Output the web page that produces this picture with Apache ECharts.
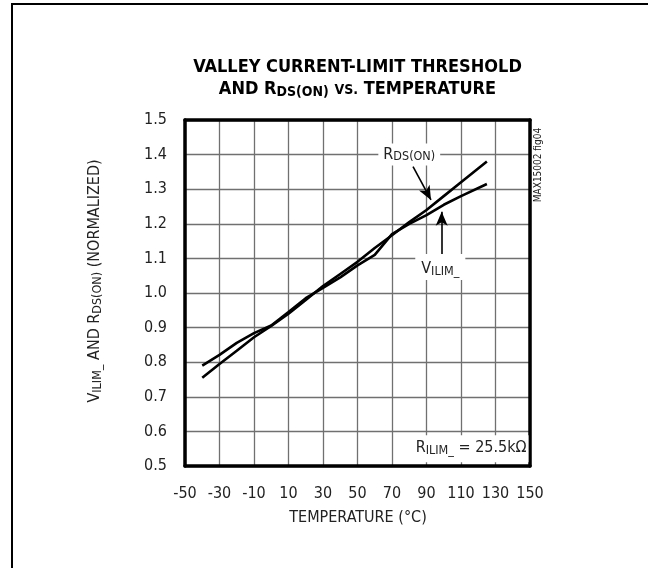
<!DOCTYPE html>
<html>
<head>
<meta charset="utf-8">
<script src="https://cdn.jsdelivr.net/npm/echarts@6/dist/echarts.min.js"></script>
<style>
html,body{margin:0;padding:0;background:#fff;}
#c{width:648px;height:568px;}
</style>
</head>
<body>
<div id="c"></div>
<script>
// Data
const temps = [-40, -30, -20, -10, 0, 10, 20, 30, 40, 50, 60, 70, 80, 90, 100, 110, 125];
const rdsOn = [0.755, 0.795, 0.833, 0.872, 0.905, 0.94, 0.98, 1.02, 1.055, 1.09, 1.13, 1.167, 1.205, 1.24, 1.28, 1.32, 1.38];
const vIlim = [0.79, 0.821, 0.856, 0.884, 0.906, 0.945, 0.985, 1.015, 1.045, 1.08, 1.11, 1.17, 1.2, 1.225, 1.255, 1.28, 1.315];
const xTicks = { min: -50, max: 150, step: 20 };
const yTicks = { min: 0.5, max: 1.5, step: 0.1 };

const FONT = "'Liberation Sans Narrow', 'Arial Narrow', 'DejaVu Sans Condensed', sans-serif";
const chart = echarts.init(document.getElementById('c'));

const sub = { fontSize: 12.5, fontFamily: FONT, color: '#222', padding: [5, 0, 0, 0] };

chart.setOption({
  animation: false,
  backgroundColor: '#fff',
  grid: { left: 185, top: 120, width: 345, height: 346 },
  xAxis: [{
    type: 'value', min: xTicks.min, max: xTicks.max, interval: xTicks.step,
    axisLine: { show: true, onZero: false, lineStyle: { color: '#000', width: 3.5 } },
    axisTick: { show: false },
    splitLine: { show: true, lineStyle: { color: '#707070', width: 1.3 } },
    axisLabel: { color: '#222', fontSize: 16, fontFamily: FONT, margin: 20 }
  }, {
    type: 'value', position: 'top', min: xTicks.min, max: xTicks.max, interval: xTicks.step,
    axisLine: { show: true, onZero: false, lineStyle: { color: '#000', width: 3.5 } },
    axisTick: { show: false }, splitLine: { show: false }, axisLabel: { show: false }
  }],
  yAxis: [{
    type: 'value', min: yTicks.min, max: yTicks.max, interval: yTicks.step,
    axisLine: { show: true, onZero: false, lineStyle: { color: '#000', width: 3.5 } },
    axisTick: { show: false },
    splitLine: { show: true, lineStyle: { color: '#707070', width: 1.3 } },
    axisLabel: { color: '#222', fontSize: 16, fontFamily: FONT, margin: 18,
      formatter: v => v.toFixed(1) }
  }, {
    type: 'value', position: 'right', min: yTicks.min, max: yTicks.max, interval: yTicks.step,
    axisLine: { show: true, onZero: false, lineStyle: { color: '#000', width: 3.5 } },
    axisTick: { show: false }, splitLine: { show: false }, axisLabel: { show: false }
  }],
  series: [{
    name: 'RDS(ON)', type: 'line', xAxisIndex: 0, yAxisIndex: 0,
    data: temps.map((t, i) => [t, rdsOn[i]]),
    symbol: 'none', lineStyle: { color: '#000', width: 2.6 }, z: 5,
    markPoint: {
      symbol: 'circle', symbolSize: 1, itemStyle: { color: 'rgba(0,0,0,0)' },
      data: [{
        coord: [80, 1.4],
        label: { show: true, position: 'inside', backgroundColor: '#fff', padding: [2, 5, 2, 5],
          formatter: 'R{s|DS(ON)}', color: '#222', fontSize: 16, fontFamily: FONT,
          rich: { s: sub } }
      }, {
        coord: [150, 0.55],
        label: { show: true, position: 'left', distance: 1, backgroundColor: '#fff', padding: [4, 2, 5, 4],
          formatter: 'R{s|ILIM_} = 25.5k\u03A9', color: '#222', fontSize: 16, fontFamily: FONT,
          rich: { s: sub } }
      }]
    },
    markLine: {
      silent: true, symbol: ['none', 'arrow'], symbolSize: [9, 14],
      lineStyle: { color: '#000', width: 1.6, type: 'solid' },
      label: { show: false },
      data: [[{ coord: [82.2, 1.365] }, { coord: [92.6, 1.269] }]]
    }
  }, {
    name: 'VILIM_', type: 'line', xAxisIndex: 0, yAxisIndex: 0,
    data: temps.map((t, i) => [t, vIlim[i]]),
    symbol: 'none', lineStyle: { color: '#000', width: 2.6 }, z: 5,
    markPoint: {
      symbol: 'circle', symbolSize: 1, itemStyle: { color: 'rgba(0,0,0,0)' },
      data: [{
        coord: [98, 1.075],
        label: { show: true, position: 'inside', backgroundColor: '#fff', padding: [6, 6, 2, 6],
          formatter: 'V{s|ILIM_}', color: '#222', fontSize: 16, fontFamily: FONT,
          rich: { s: sub } }
      }]
    },
    markLine: {
      silent: true, symbol: ['none', 'arrow'], symbolSize: [9, 14],
      lineStyle: { color: '#000', width: 1.6, type: 'solid' },
      label: { show: false },
      data: [[{ coord: [98.8, 1.11] }, { coord: [98.8, 1.235] }]]
    }
  }],
  graphic: [
    { type: 'rect', shape: { x: 12, y: 4, width: 700, height: 700 },
      style: { fill: 'none', stroke: '#000', lineWidth: 2 }, z: -10, silent: true },
    { type: 'text', x: 357.5, y: 67, style: { text: 'VALLEY CURRENT-LIMIT THRESHOLD', align: 'center', verticalAlign: 'middle',
      fontSize: 18, fontWeight: 'bold', fontFamily: FONT, fill: '#000' } },
    { type: 'text', x: 357.5, y: 89, style: { text: 'AND R{s|DS(ON)} {v|VS.} TEMPERATURE', align: 'center', verticalAlign: 'middle',
      fontSize: 18, fontWeight: 'bold', fontFamily: FONT, fill: '#000',
      rich: { s: { fontSize: 14, fontWeight: 'bold', fontFamily: FONT, padding: [6, 0, 0, 0] },
              v: { fontSize: 14, fontWeight: 'bold', fontFamily: FONT, padding: [3, 0, 0, 0] } } } },
    { type: 'text', x: 95, y: 281, rotation: Math.PI / 2,
      style: { text: 'V{s|ILIM_} AND R{s|DS(ON)} (NORMALIZED)', align: 'center', verticalAlign: 'middle',
        fontSize: 16, fontFamily: FONT, fill: '#222', rich: { s: sub } } },
    { type: 'text', x: 358, y: 518, style: { text: 'TEMPERATURE (\u00B0C)', align: 'center', verticalAlign: 'middle',
      fontSize: 16, fontFamily: FONT, fill: '#222' } },
    { type: 'text', x: 538, y: 165, rotation: Math.PI / 2,
      style: { text: 'MAX15002 fig04', align: 'center', verticalAlign: 'middle',
        fontSize: 10, fontFamily: FONT, fill: '#222' } }
  ]
});
</script>
</body>
</html>
